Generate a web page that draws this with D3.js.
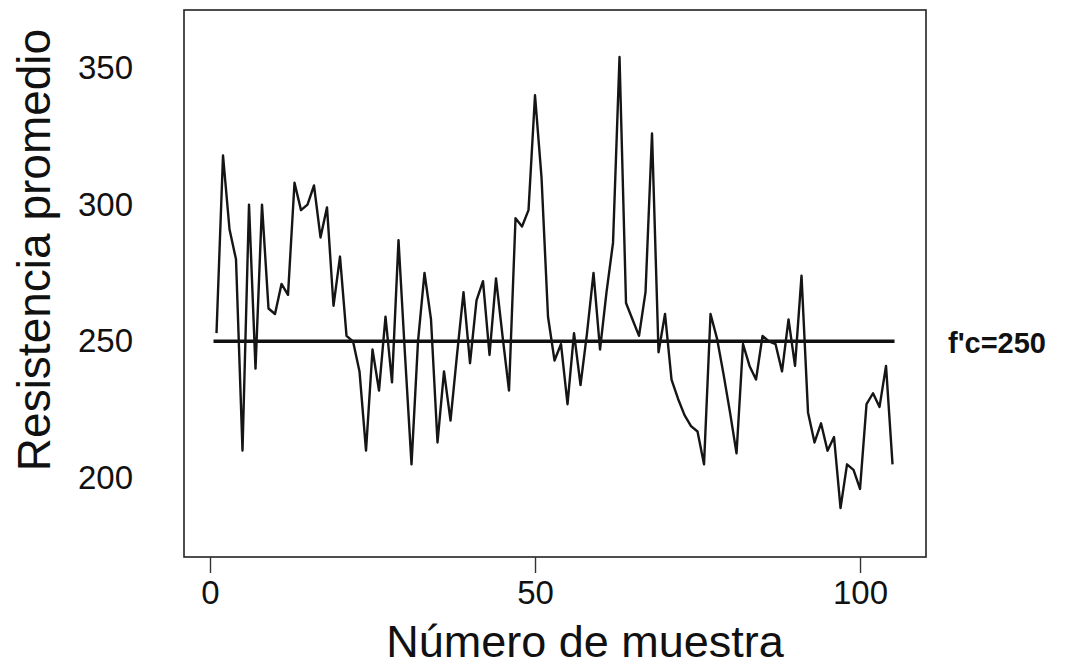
<!DOCTYPE html>
<html>
<head>
<meta charset="utf-8">
<script src="https://cdn.jsdelivr.net/npm/d3@7"></script>
<style>
  html, body { margin: 0; padding: 0; background: #fff; }
  svg { display: block; font-family: "Liberation Sans", Arial, sans-serif; }
</style>
</head>
<body>
<svg id="chart" width="1076" height="670"></svg>
<script>
// ---- data ----
const sampleValues = [
  253, 318, 291, 280, 210, 300, 240, 300, 262, 260,
  271, 267, 308, 298, 300, 307, 288, 299, 263, 281,
  252, 250, 239, 210, 247, 232, 259, 235, 287, 245,
  205, 250, 275, 258, 213, 239, 221, 245, 268, 242,
  265, 272, 245, 273, 252, 232, 295, 292, 298, 340,
  310, 259, 243, 249, 227, 253, 234, 253, 275, 247,
  268, 286, 354, 264, 258, 252, 268, 326, 246, 260,
  236, 229, 223, 219, 217, 205, 260, 251, 238, 224,
  209, 249, 241, 236, 252, 250, 249, 239, 258, 241,
  274, 224, 213, 220, 210, 215, 189, 205, 203, 196,
  227, 231, 226, 241, 205
];
const sampleNumbers = sampleValues.map((_, i) => i + 1);
const fcValue = 250;
const fcLabel = "f'c=250";
const xTicks = [0, 50, 100];
const yTicks = [200, 250, 300, 350];
const xTitle = "Número de muestra";
const yTitle = "Resistencia promedio";

// ---- layout ----
const box = { left: 184, right: 926, top: 10, bottom: 557 };
const svg = d3.select("#chart");

const x = d3.scaleLinear().domain([-4, 110.15]).range([box.left, box.right]);
const y = d3.scaleLinear().domain([171.1, 371.2]).range([box.bottom, box.top]);

// frame
svg.append("rect")
  .attr("x", box.left).attr("y", box.top)
  .attr("width", box.right - box.left).attr("height", box.bottom - box.top)
  .attr("fill", "none").attr("stroke", "#222").attr("stroke-width", 1.6);

// x axis (ticks below frame)
const xAxis = d3.axisBottom(x).tickValues(xTicks).tickSize(16).tickPadding(8)
  .tickFormat(d3.format("d"));
const gx = svg.append("g").attr("transform", `translate(0,${box.bottom})`).call(xAxis);
gx.select(".domain").remove();
gx.selectAll(".tick line").attr("stroke", "#333").attr("stroke-width", 1.4);
gx.selectAll(".tick text").attr("fill", "#111").attr("font-size", 33)
  .attr("font-family", "Liberation Sans, Arial, sans-serif");

// y axis labels only (no tick marks)
const yAxis = d3.axisLeft(y).tickValues(yTicks).tickSize(0).tickPadding(0)
  .tickFormat(d3.format("d"));
const gy = svg.append("g").attr("transform", `translate(133,0)`).call(yAxis);
gy.select(".domain").remove();
gy.selectAll(".tick text").attr("fill", "#111").attr("font-size", 33)
  .attr("font-family", "Liberation Sans, Arial, sans-serif");

// reference line f'c
svg.append("line")
  .attr("x1", x(sampleNumbers[0]) - 3).attr("x2", x(sampleNumbers[sampleNumbers.length - 1]) + 2)
  .attr("y1", y(fcValue)).attr("y2", y(fcValue))
  .attr("stroke", "#111").attr("stroke-width", 3.4);

// data line
const line = d3.line().x((d, i) => x(sampleNumbers[i])).y(d => y(d));
svg.append("path")
  .datum(sampleValues)
  .attr("d", line)
  .attr("fill", "none")
  .attr("stroke", "#151515")
  .attr("stroke-width", 2.4)
  .attr("stroke-linejoin", "round");

// f'c label
svg.append("text")
  .attr("x", 948).attr("y", y(fcValue) + 12)
  .attr("font-size", 29).attr("font-weight", "bold").attr("fill", "#111")
  .text(fcLabel);

// axis titles
svg.append("text")
  .attr("x", 585).attr("y", 657)
  .attr("text-anchor", "middle")
  .attr("font-size", 45).attr("fill", "#111")
  .text(xTitle);

svg.append("text")
  .attr("transform", `translate(50,250) rotate(-90)`)
  .attr("text-anchor", "middle")
  .attr("font-size", 46).attr("fill", "#111")
  .text(yTitle);
</script>
</body>
</html>
